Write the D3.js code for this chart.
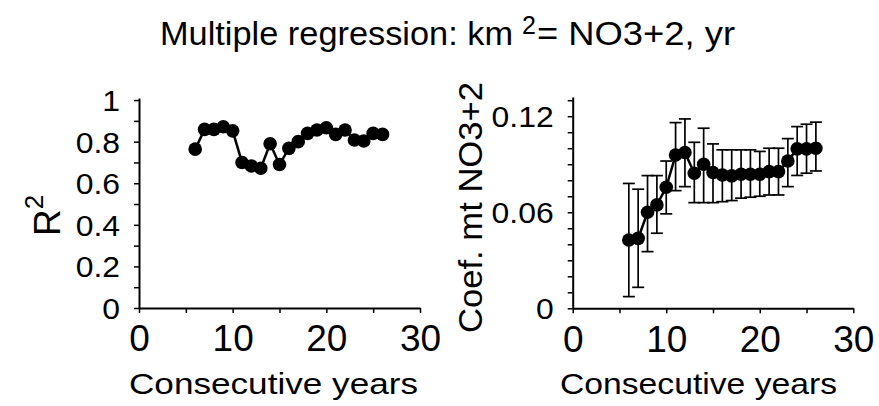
<!DOCTYPE html>
<html>
<head>
<meta charset="utf-8">
<script src="https://cdn.jsdelivr.net/npm/d3@7"></script>
<style>
  body { margin: 0; background: #fff; }
  text { font-family: "Liberation Sans", Arial, sans-serif; fill: #000; }
</style>
</head>
<body>
<div id="chart"></div>
<script>
// ---- data ----
var years = [6, 7, 8, 9, 10, 11, 12, 13, 14, 15, 16, 17, 18, 19, 20, 21, 22, 23, 24, 25, 26];
var r2 = [0.764, 0.859, 0.859, 0.872, 0.852, 0.700, 0.683, 0.672, 0.790, 0.690, 0.768,
          0.800, 0.840, 0.856, 0.867, 0.835, 0.856, 0.808, 0.803, 0.840, 0.835];
var coef = [0.0427, 0.0437, 0.0600, 0.0646, 0.0756, 0.0958, 0.0973, 0.0844, 0.0900, 0.0848, 0.0833,
            0.0827, 0.0837, 0.0837, 0.0837, 0.0854, 0.0854, 0.0920, 0.0996, 0.0996, 0.1000];
var coefHigh = [0.0780, 0.0744, 0.0829, 0.0829, 0.0920, 0.1160, 0.1183, 0.1037, 0.1125, 0.1027, 0.0990,
                0.0990, 0.0990, 0.0990, 0.0980, 0.1000, 0.1000, 0.1060, 0.1135, 0.1150, 0.1163];
var coefLow = [0.0073, 0.0131, 0.0354, 0.0469, 0.0590, 0.0735, 0.0760, 0.0660, 0.0660, 0.0660, 0.0666,
               0.0673, 0.0688, 0.0694, 0.0700, 0.0708, 0.0708, 0.0760, 0.0830, 0.0844, 0.0858];
var xTicks = [0, 5, 10, 15, 20, 25, 30];
var xLabels = [0, 10, 20, 30];
var r2Ticks = [0, 0.1, 0.2, 0.3, 0.4, 0.5, 0.6, 0.7, 0.8, 0.9, 1];
var r2Labels = [0, 0.2, 0.4, 0.6, 0.8, 1];
var coefTicks = [0, 0.01, 0.02, 0.03, 0.04, 0.05, 0.06, 0.07, 0.08, 0.09, 0.1, 0.11, 0.12, 0.13];
var coefLabels = [0, 0.06, 0.12];

var W = 879, H = 406;
var svg = d3.select("#chart").append("svg")
  .attr("width", W).attr("height", H);
svg.append("rect").attr("width", W).attr("height", H).attr("fill", "#fff");

// widen text horizontally to mimic the stretched lettering of the figure
function stretch(sel, k) {
  sel.each(function() {
    var w = this.getComputedTextLength();
    if (w > 0) d3.select(this).attr("textLength", w * k).attr("lengthAdjust", "spacingAndGlyphs");
  });
}

function fmt(labels) {
  return function(d) {
    var hit = labels.some(function(l) { return Math.abs(l - d) < 1e-9; });
    return hit ? String(+d.toFixed(3)) : "";
  };
}

function drawAxes(x, y, yTicks, yLabels) {
  var g = svg.append("g");
  // x axis
  var xa = g.append("g")
    .attr("transform", "translate(0," + y.range()[0] + ")")
    .call(d3.axisBottom(x).tickValues(xTicks).tickFormat(fmt(xLabels))
      .tickSize(5).tickSizeOuter(0).tickPadding(12));
  xa.select(".domain").attr("stroke-width", 2);
  xa.selectAll(".tick line").attr("stroke-width", 1.5);
  xa.selectAll("text").attr("font-size", 37).attr("dy", "0.71em");
  // y axis
  var ya = g.append("g")
    .attr("transform", "translate(" + x.range()[0] + ",0)")
    .call(d3.axisLeft(y).tickValues(yTicks).tickFormat(fmt(yLabels))
      .tickSize(5).tickSizeOuter(0).tickPadding(14));
  ya.select(".domain").attr("stroke-width", 2);
  ya.selectAll(".tick line").attr("stroke-width", 1.5);
  ya.selectAll("text").attr("font-size", 29).attr("dy", "0.36em");
  stretch(ya.selectAll("text"), 1.1);
}

// ---- left panel: R^2 ----
var x1 = d3.scaleLinear().domain([0, 30]).range([139, 420]);
var y1 = d3.scaleLinear().domain([0, 1.01]).range([308, 98]);
drawAxes(x1, y1, r2Ticks, r2Labels);

var leftPts = years.map(function(d, i) { return [d, r2[i]]; });
svg.append("path")
  .datum(leftPts)
  .attr("fill", "none").attr("stroke", "#000").attr("stroke-width", 2.5)
  .attr("d", d3.line().x(function(d) { return x1(d[0]); }).y(function(d) { return y1(d[1]); }));
svg.append("g").selectAll("circle")
  .data(leftPts).enter().append("circle")
  .attr("cx", function(d) { return x1(d[0]); })
  .attr("cy", function(d) { return y1(d[1]); })
  .attr("r", 6.8).attr("fill", "#000");

// ---- right panel: coefficient with error bars ----
var x2 = d3.scaleLinear().domain([0, 30]).range([572.7, 853.3]);
var y2 = d3.scaleLinear().domain([0, 0.132]).range([308.3, 97]);
drawAxes(x2, y2, coefTicks, coefLabels);

var rightPts = years.map(function(d, i) {
  return { yr: d, v: coef[i], lo: coefLow[i], hi: coefHigh[i] };
});
var eb = svg.append("g").attr("stroke", "#000").attr("stroke-width", 1.7);
eb.selectAll(".bar").data(rightPts).enter().append("line")
  .attr("x1", function(d) { return x2(d.yr); }).attr("x2", function(d) { return x2(d.yr); })
  .attr("y1", function(d) { return y2(d.lo); }).attr("y2", function(d) { return y2(d.hi); });
eb.selectAll(".capHi").data(rightPts).enter().append("line")
  .attr("x1", function(d) { return x2(d.yr) - 6; }).attr("x2", function(d) { return x2(d.yr) + 6; })
  .attr("y1", function(d) { return y2(d.hi); }).attr("y2", function(d) { return y2(d.hi); });
eb.selectAll(".capLo").data(rightPts).enter().append("line")
  .attr("x1", function(d) { return x2(d.yr) - 6; }).attr("x2", function(d) { return x2(d.yr) + 6; })
  .attr("y1", function(d) { return y2(d.lo); }).attr("y2", function(d) { return y2(d.lo); });

svg.append("path")
  .datum(rightPts)
  .attr("fill", "none").attr("stroke", "#000").attr("stroke-width", 2.5)
  .attr("d", d3.line().x(function(d) { return x2(d.yr); }).y(function(d) { return y2(d.v); }));
svg.append("g").selectAll("circle")
  .data(rightPts).enter().append("circle")
  .attr("cx", function(d) { return x2(d.yr); })
  .attr("cy", function(d) { return y2(d.v); })
  .attr("r", 6.8).attr("fill", "#000");

// ---- titles and axis labels ----
svg.append("text").attr("x", 160).attr("y", 45).attr("font-size", 33)
  .attr("textLength", 353).attr("lengthAdjust", "spacingAndGlyphs")
  .text("Multiple regression: km");
svg.append("text").attr("x", 522).attr("y", 34).attr("font-size", 25)
  .text("2");
svg.append("text").attr("x", 537).attr("y", 45).attr("font-size", 33)
  .attr("textLength", 198).attr("lengthAdjust", "spacingAndGlyphs")
  .text("= NO3+2, yr");

svg.append("text").attr("x", 129).attr("y", 394).attr("font-size", 29)
  .attr("textLength", 289).attr("lengthAdjust", "spacingAndGlyphs")
  .text("Consecutive years");
svg.append("text").attr("x", 560).attr("y", 394).attr("font-size", 29)
  .attr("textLength", 277).attr("lengthAdjust", "spacingAndGlyphs")
  .text("Consecutive years");

// R^2 label, rotated
var rl = svg.append("text")
  .attr("transform", "translate(60,236) rotate(-90)")
  .attr("font-size", 37);
rl.append("tspan").text("R");
rl.append("tspan").attr("font-size", 26).attr("dy", -17).text("2");

svg.append("text")
  .attr("transform", "translate(482,333) rotate(-90)")
  .attr("font-size", 33)
  .attr("textLength", 251).attr("lengthAdjust", "spacingAndGlyphs")
  .text("Coef. mt NO3+2");
</script>
</body>
</html>
